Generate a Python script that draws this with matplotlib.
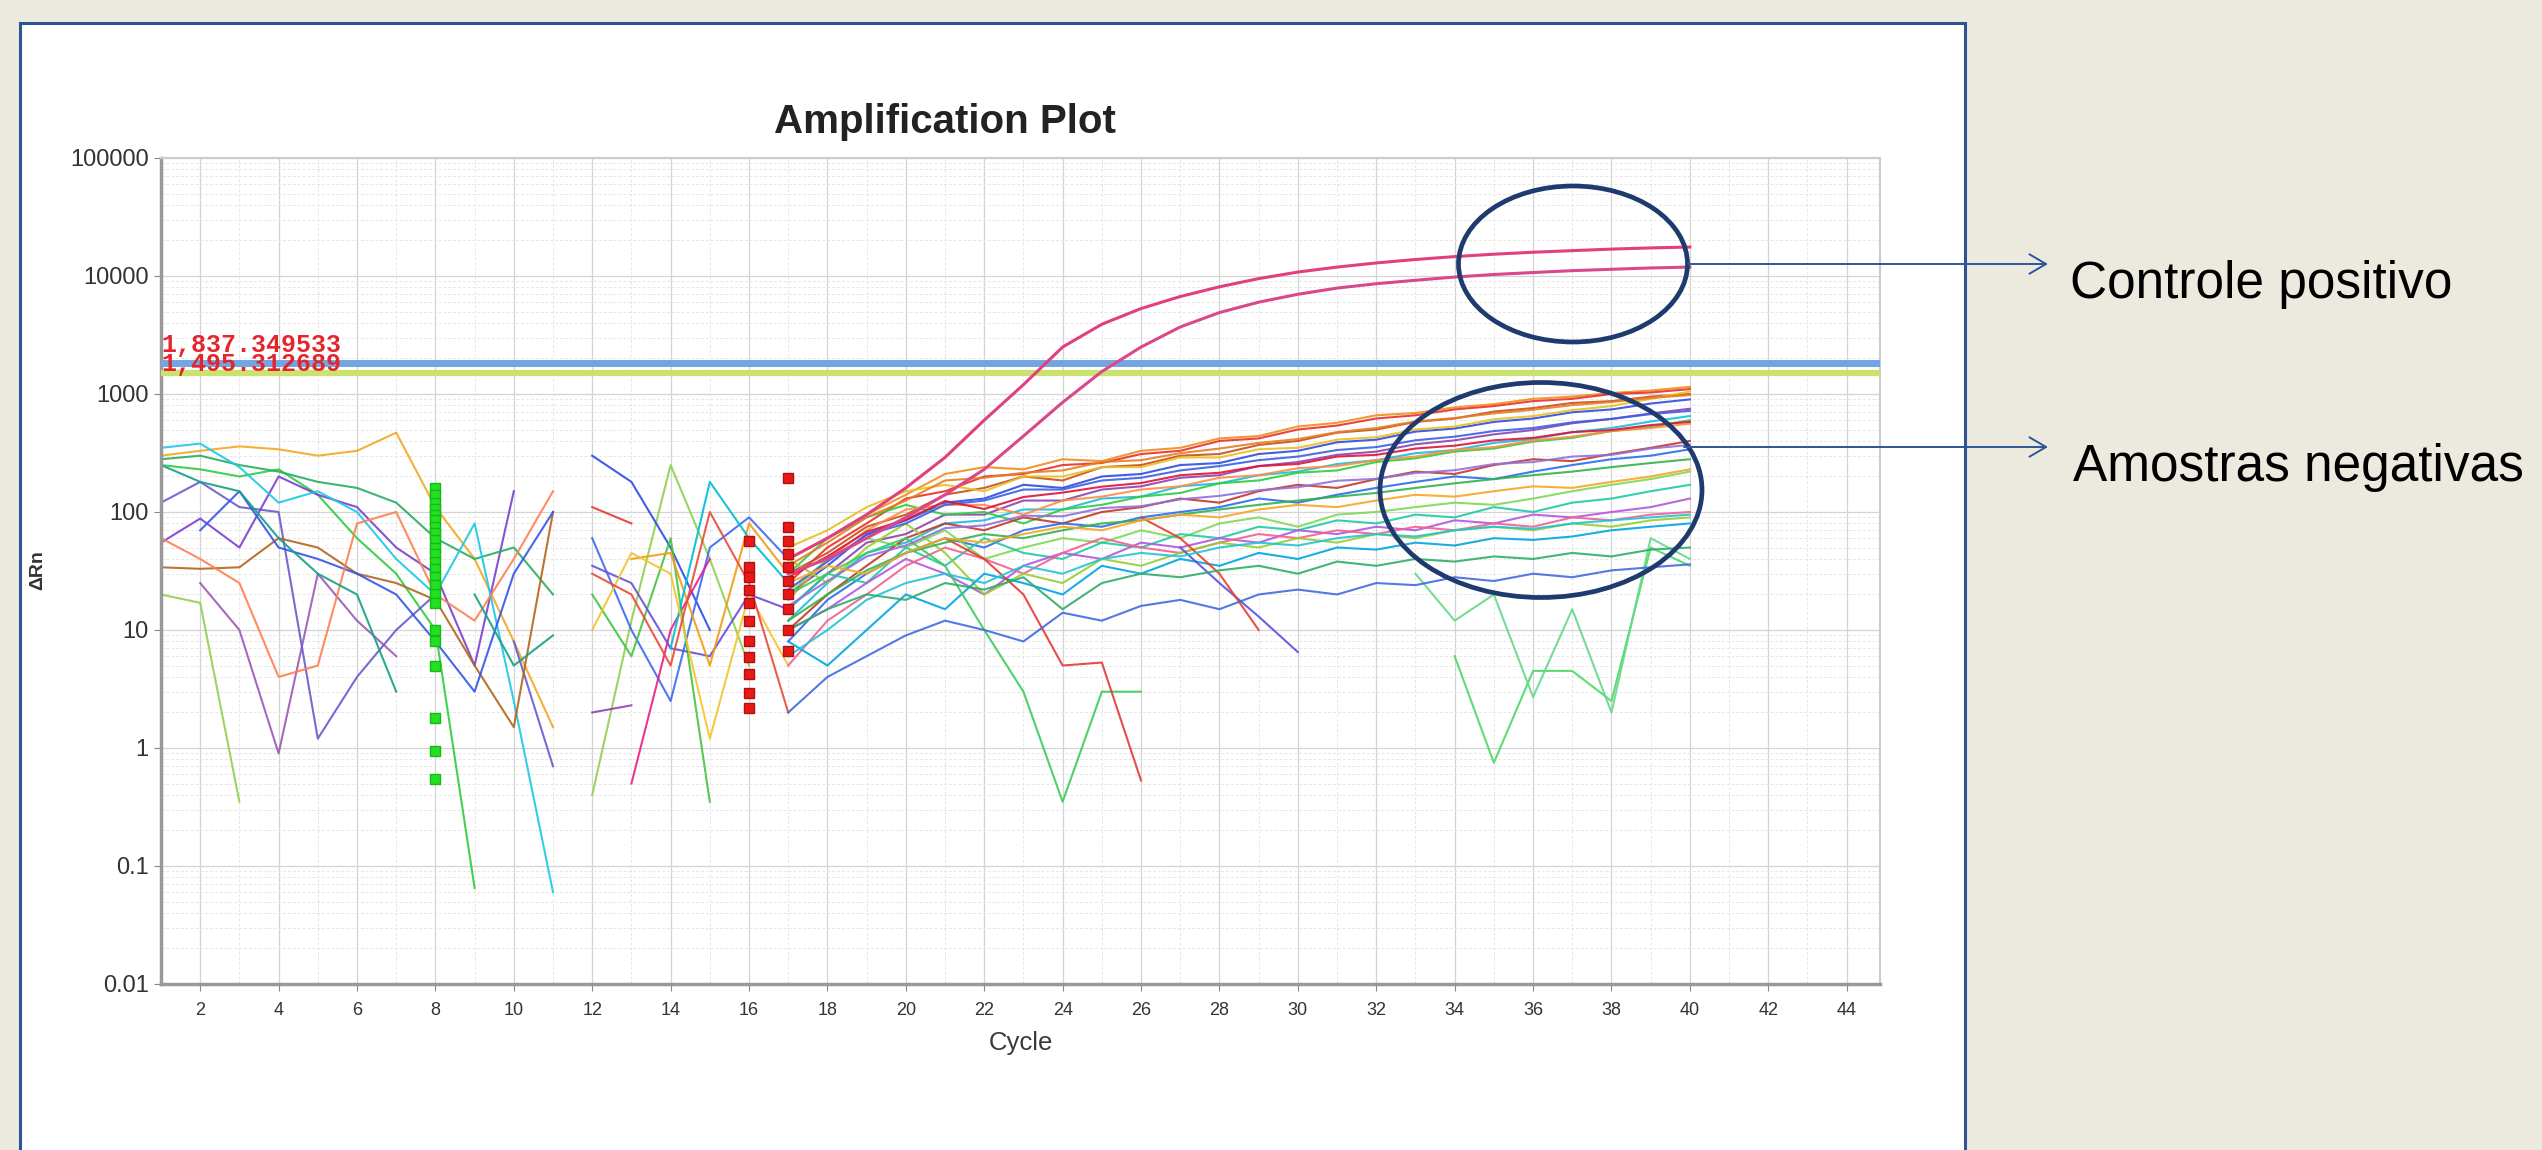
import numpy as np
import matplotlib.pyplot as plt
from matplotlib.patches import Rectangle, Ellipse
from matplotlib.ticker import LogLocator, NullFormatter

plt.rcParams['font.family'] = ['Liberation Sans', 'DejaVu Sans']

N = None
W, H = 2542, 1150

# ---- data ----
cycles_early = np.arange(1, 18)
cycles_late = np.arange(17, 41)

# noisy baseline fragments, cycles 1..17 (None = value not shown on log axis)
early = [
    [300, 330, 360, 340, 300, 330, 470, 110, 40, 8, 1.5, N, N, N, N, N, N],
    [250, 230, 200, 230, 140, 60, 30, 10, 0.065, N, N, N, N, N, N, N, N],
    [20, 17, 0.35, N, N, N, N, N, N, N, N, 0.4, 12, 250, 40, 5, N],
    [55, 88, 50, 200, 140, 110, 50, 30, 5, 150, N, N, N, N, N, N, N],
    [N, 25, 10, 0.9, 30, 12, 6, N, N, N, N, N, N, N, N, N, N],
    [120, 180, 110, 100, 1.2, 4, 10, 20, N, 8, 0.7, N, N, N, N, N, N],
    [280, 300, 250, 220, 180, 160, 120, 60, 40, 50, 20, N, N, N, N, N, N],
    [350, 380, 240, 120, 150, 100, 40, 20, 80, 2.5, 0.06, N, N, N, N, N, N],
    [34, 33, 34, 60, 50, 30, 25, 18, 5, 1.5, 100, N, N, N, N, N, N],
    [N, 70, 150, 50, 40, 30, 20, 8, 3, 30, 100, N, N, N, N, N, N],
    [60, 40, 25, 4, 5, 80, 100, 20, 12, 40, 150, N, N, N, N, N, N],
    [250, 180, 150, 60, 30, 20, 3, N, 20, 5, 9, N, N, N, N, N, N],
    [N, N, N, N, N, N, N, N, N, N, N, 300, 180, 50, 10, N, N],
    [N, N, N, N, N, N, N, N, N, N, N, 110, 80, N, N, N, N],
    [N, N, N, N, N, N, N, N, N, N, N, 2, 2.3, N, N, N, N],
    [N, N, N, N, N, N, N, N, N, N, N, 60, 10, 2.5, 50, 90, 40],
    [N, N, N, N, N, N, N, N, N, N, N, N, 0.5, 10, 40, N, N],
    [N, N, N, N, N, N, N, N, N, N, N, 20, 6, 60, 0.35, N, N],
    [N, N, N, N, N, N, N, N, N, N, N, 35, 25, 7, 6, 20, 15],
    [N, N, N, N, N, N, N, N, N, N, N, N, 40, 45, 5, 80, 30],
    [N, N, N, N, N, N, N, N, N, N, N, N, N, 7, 180, 60, 25],
    [N, N, N, N, N, N, N, N, N, N, N, 10, 45, 30, 1.2, 20, 5],
    [N, N, N, N, N, N, N, N, N, N, N, 30, 20, 5, 100, 25, 2],
]

# negative samples, cycles 17..40
late = [
    [40, 60, 95, 140, 210, 240, 230, 280, 270, 330, 350, 420, 440, 530, 570, 660, 690, 770, 820, 910, 950, 1020, 1070, 1150],
    [25, 50, 80, 130, 150, 200, 210, 250, 260, 310, 330, 400, 420, 500, 540, 620, 660, 740, 790, 870, 910, 1000, 1030, 1100],
    [30, 45, 75, 95, 140, 160, 200, 185, 240, 250, 300, 310, 370, 400, 470, 500, 580, 620, 710, 760, 840, 870, 950, 1000],
    [20, 35, 65, 85, 120, 130, 170, 160, 200, 210, 250, 260, 310, 330, 390, 410, 480, 510, 580, 620, 700, 740, 830, 900],
    [50, 70, 110, 150, 170, 150, 200, 200, 240, 240, 290, 290, 340, 350, 410, 430, 500, 530, 610, 650, 730, 790, 910, 1050],
    [15, 30, 55, 65, 95, 95, 125, 125, 155, 165, 195, 205, 245, 265, 305, 325, 375, 405, 455, 495, 565, 615, 685, 750],
    [12, 25, 45, 55, 80, 85, 105, 105, 130, 135, 165, 175, 205, 220, 255, 275, 315, 335, 385, 415, 475, 515, 585, 650],
    [30, 60, 90, 115, 95, 100, 80, 105, 115, 135, 145, 175, 185, 215, 225, 265, 285, 325, 345, 395, 425, 485, 525, 600],
    [18, 40, 70, 105, 115, 115, 95, 125, 135, 155, 165, 195, 205, 235, 245, 275, 295, 335, 355, 405, 435, 485, 515, 560],
    [10, 20, 35, 60, 80, 70, 90, 80, 100, 110, 130, 120, 150, 170, 160, 190, 220, 210, 250, 280, 270, 310, 350, 400],
    [8, 18, 30, 45, 60, 50, 70, 80, 75, 90, 100, 110, 130, 120, 140, 160, 180, 200, 190, 220, 250, 280, 300, 340],
    [20, 40, 60, 50, 70, 40, 50, 60, 55, 70, 60, 80, 90, 75, 95, 100, 110, 120, 115, 130, 150, 170, 190, 220],
    [15, 30, 25, 50, 35, 60, 45, 40, 55, 50, 65, 60, 75, 70, 85, 80, 95, 90, 110, 100, 120, 130, 150, 170],
    [10, 15, 25, 40, 30, 20, 35, 45, 40, 55, 50, 60, 55, 70, 65, 75, 70, 85, 80, 95, 90, 100, 110, 130],
    [5, 12, 20, 35, 50, 40, 30, 45, 60, 50, 45, 55, 65, 60, 70, 65, 75, 70, 80, 75, 90, 85, 95, 100],
    [40, 25, 50, 80, 45, 20, 30, 25, 40, 35, 45, 55, 50, 60, 55, 65, 60, 70, 75, 70, 80, 75, 85, 90],
    [8, 5, 10, 20, 15, 30, 25, 20, 35, 30, 40, 35, 45, 40, 50, 48, 55, 52, 60, 58, 62, 70, 75, 80],
    [20, 30, 45, 60, 35, 10, 3, 0.35, 3, 3, N, N, N, N, N, N, N, N, N, N, N, N, N, N],
    [N, N, N, N, 60, 40, 20, 5, 5.3, 0.53, N, N, N, N, N, N, N, N, N, N, N, N, N, N],
    [N, N, N, N, N, N, N, N, N, N, 50, 25, 13, 6.5, N, N, N, N, N, N, N, N, N, N],
    [N, N, N, N, N, N, N, N, N, 90, 60, 30, 10, N, N, N, N, N, N, N, N, N, N, N],
    [N, N, N, N, N, N, N, N, N, N, N, N, N, N, N, N, N, 6, 0.75, 4.5, 4.5, 2.5, 50, 35],
    [N, N, N, N, N, N, N, N, N, N, N, N, N, N, N, N, 30, 12, 20, 2.7, 15, 2, 60, 40],
    [35, 55, 90, 125, 185, 195, 215, 225, 265, 275, 315, 345, 385, 415, 475, 515, 585, 625, 685, 735, 805, 855, 925, 980],
    [22, 38, 64, 80, 115, 125, 155, 155, 185, 195, 225, 245, 275, 295, 335, 355, 405, 435, 485, 515, 575, 615, 675, 720],
    [28, 42, 68, 86, 124, 106, 134, 146, 164, 176, 205, 215, 245, 255, 295, 305, 345, 365, 405, 425, 475, 495, 545, 580],
    [16, 26, 42, 52, 73, 77, 93, 92, 108, 112, 128, 137, 153, 162, 184, 191, 214, 226, 255, 265, 295, 305, 345, 370],
    [12, 20, 32, 45, 55, 65, 60, 70, 80, 85, 95, 105, 115, 125, 135, 145, 160, 175, 190, 205, 220, 240, 260, 280],
    [25, 35, 30, 45, 60, 55, 65, 75, 70, 85, 95, 90, 105, 115, 110, 125, 140, 135, 150, 165, 160, 180, 200, 230],
    [6, 10, 18, 25, 30, 25, 35, 30, 40, 45, 42, 50, 55, 52, 60, 65, 62, 70, 75, 72, 80, 85, 90, 95],
    [10, 15, 20, 18, 25, 22, 28, 15, 25, 30, 28, 32, 35, 30, 38, 35, 40, 38, 42, 40, 45, 42, 48, 50],
    [2, 4, 6, 9, 12, 10, 8, 14, 12, 16, 18, 15, 20, 22, 20, 25, 24, 28, 26, 30, 28, 32, 34, 36],
]

# positive controls, cycles 17..40
pos_a = [40, 60, 95, 160, 290, 600, 1200, 2500, 3900, 5300, 6700, 8100, 9500, 10800, 11900, 12900,
         13800, 14600, 15300, 15900, 16400, 16900, 17300, 17600]
pos_b = [30, 40, 60, 90, 140, 230, 440, 850, 1550, 2500, 3700, 4900, 6000, 7000, 7900, 8600,
         9200, 9800, 10300, 10700, 11100, 11400, 11700, 11900]

thresholds = [1837.349533, 1495.312689]
threshold_labels = ['1,837.349533', '1,495.312689']

# Ct markers
ct_green_cycle = 8
ct_green = [160, 140, 120, 105, 95, 85, 75, 66, 58, 50, 44, 38, 33, 28, 24, 20, 17, 10, 8, 5, 1.8, 0.95, 0.55]
ct_red_cycle_a = 16
ct_red_a = [57, 34, 28, 22, 17, 12, 8, 5.9, 4.2, 2.9, 2.2]
ct_red_cycle_b = 17
ct_red_b = [195, 74, 57, 44, 34, 26, 20, 15, 10, 6.7]

x_ticks = list(range(2, 45, 2))
y_ticks = [0.01, 0.1, 1, 10, 100, 1000, 10000, 100000]
y_tick_labels = ['0.01', '0.1', '1', '10', '100', '1000', '10000', '100000']

early_colors = ['#F5A623', '#2ECC40', '#8FD14F', '#7B3FD0', '#9B59B6', '#6A5ACD', '#27AE60', '#1FC8E3',
                '#B5651D', '#3355E8', '#FF7F50', '#16A085', '#2E4BE0', '#E53935', '#8E44AD', '#3D6BF0',
                '#E91E8C', '#43C443', '#6A4FD8', '#F39C12', '#00BCD4', '#F4C430', '#E74C3C']
late_colors = ['#F08C1E', '#E8302A', '#C8501A', '#2E4BE0', '#E8C020', '#8E44AD', '#1ABCDF', '#2ECC40',
               '#FF8C42', '#C0392B', '#2C6BED', '#7ED957', '#20C9A6', '#B455E0', '#F06292', '#9ACD32',
               '#00A5E0', '#3CCB5A', '#E53935', '#5B4FE0', '#E8402A', '#4CD964', '#66D98A', '#E67E22',
               '#3A5FE5', '#DC143C', '#9370DB', '#32B34A', '#F5A623', '#22C3D6', '#2EAD6B', '#4169E1']

# ---- figure ----
fig = plt.figure(figsize=(W / 100, H / 100), dpi=100, facecolor='#ECEADF')

# white slide box with blue border
box = Rectangle((20 / W, -0.05), 1945 / W, 1 - 23 / H + 0.05, transform=fig.transFigure,
                facecolor='white', edgecolor='#2F5496', linewidth=2.2, zorder=-1)
fig.add_artist(box)

ax = fig.add_axes([161 / W, 1 - 984 / H, (1880 - 161) / W, (984 - 158) / H])
ax.set_facecolor('white')
ax.set_yscale('log')
ax.set_ylim(0.01, 1e5)
ax.set_xlim(1, 44.85)

for vals, c in zip(early, early_colors):
    ax.plot(cycles_early, np.array(vals, dtype=float), color=c, lw=1.5, alpha=0.9)
for vals, c in zip(late, late_colors):
    ax.plot(cycles_late, np.array(vals, dtype=float), color=c, lw=1.5, alpha=0.9)

ax.plot(cycles_late, pos_a, color='#E0407F', lw=2.2, zorder=4)
ax.plot(cycles_late, pos_b, color='#D9488A', lw=2.2, zorder=4)

ax.axhline(thresholds[0], color='#72A6E2', lw=5, zorder=3)
ax.axhline(thresholds[1], color='#CCE270', lw=4.5, zorder=3)
for lab, thr, off in zip(threshold_labels, thresholds, [13, 6.5]):
    ax.annotate(lab, xy=(1, thr), xytext=(0, off), textcoords='offset points',
                ha='left', va='center', fontsize=18, fontweight='bold',
                family=['Liberation Mono', 'DejaVu Sans Mono'], color='#E3262E', zorder=6)

ax.plot([ct_green_cycle] * len(ct_green), ct_green, 's', ms=7, color='#22E022', mec='#17B817',
        mew=1, zorder=5)
ax.plot([ct_red_cycle_a] * len(ct_red_a), ct_red_a, 's', ms=7, color='#E81818', mec='#B01010',
        mew=1, zorder=5)
ax.plot([ct_red_cycle_b] * len(ct_red_b), ct_red_b, 's', ms=7, color='#E81818', mec='#B01010',
        mew=1, zorder=5)

# grid + ticks
ax.set_xticks(x_ticks)
ax.set_xticks(np.arange(1, 45), minor=True)
ax.set_yticks(y_ticks, y_tick_labels)
ax.yaxis.set_minor_locator(LogLocator(base=10, subs=range(2, 10)))
ax.yaxis.set_minor_formatter(NullFormatter())
ax.grid(which='major', color='#D4D4D4', lw=0.9)
ax.grid(which='minor', color='#E6E6E6', lw=0.7, linestyle=(0, (3, 2)))
ax.set_axisbelow(True)
ax.tick_params(which='minor', length=0)
ax.tick_params(axis='y', which='major', labelsize=17, length=5, color='#888888',
               labelcolor='#333333', pad=4)
ax.tick_params(axis='x', which='major', labelsize=13, length=5, color='#888888',
               labelcolor='#333333', pad=8)
for s in ['left', 'bottom']:
    ax.spines[s].set_color('#999999')
    ax.spines[s].set_linewidth(2.5)
for s in ['top', 'right']:
    ax.spines[s].set_color('#CCCCCC')
    ax.spines[s].set_linewidth(1.5)

fig.text(945 / W, 1 - 133 / H, 'Amplification Plot', fontsize=29, fontweight='bold',
         ha='center', va='baseline', color='#222222')
fig.text(1021 / W, 1 - 1043 / H, 'Cycle', fontsize=18.5, ha='center', va='center', color='#3A3A3A')
fig.text(38 / W, 1 - 570 / H, 'ΔRn', rotation=90, fontsize=14, fontweight='bold',
         ha='center', va='center', color='#333333')

# annotation overlay in pixel coordinates
ov = fig.add_axes([0, 0, 1, 1], zorder=10)
ov.set_xlim(0, W)
ov.set_ylim(H, 0)
ov.axis('off')
ov.patch.set_alpha(0)

ov.add_patch(Ellipse((1573, 264), 229, 156, fill=False, edgecolor='#1F3B6E', lw=3.4))
ov.add_patch(Ellipse((1541, 490), 322, 215, fill=False, edgecolor='#1F3B6E', lw=3.4))

arrow = dict(arrowstyle='->,head_length=0.6,head_width=0.35', color='#2E5597', lw=1.4,
             mutation_scale=20, shrinkA=0, shrinkB=0)
ov.annotate('', xy=(2048, 264), xytext=(1688, 264), arrowprops=arrow)
ov.annotate('', xy=(2048, 447), xytext=(1684, 447), arrowprops=arrow)

ov.text(2070, 298, 'Controle positivo', fontsize=37, ha='left', va='baseline', color='black')
ov.text(2073, 481, 'Amostras negativas', fontsize=37, ha='left', va='baseline', color='black')

fig.savefig('out.png', dpi=100, facecolor=fig.get_facecolor())
